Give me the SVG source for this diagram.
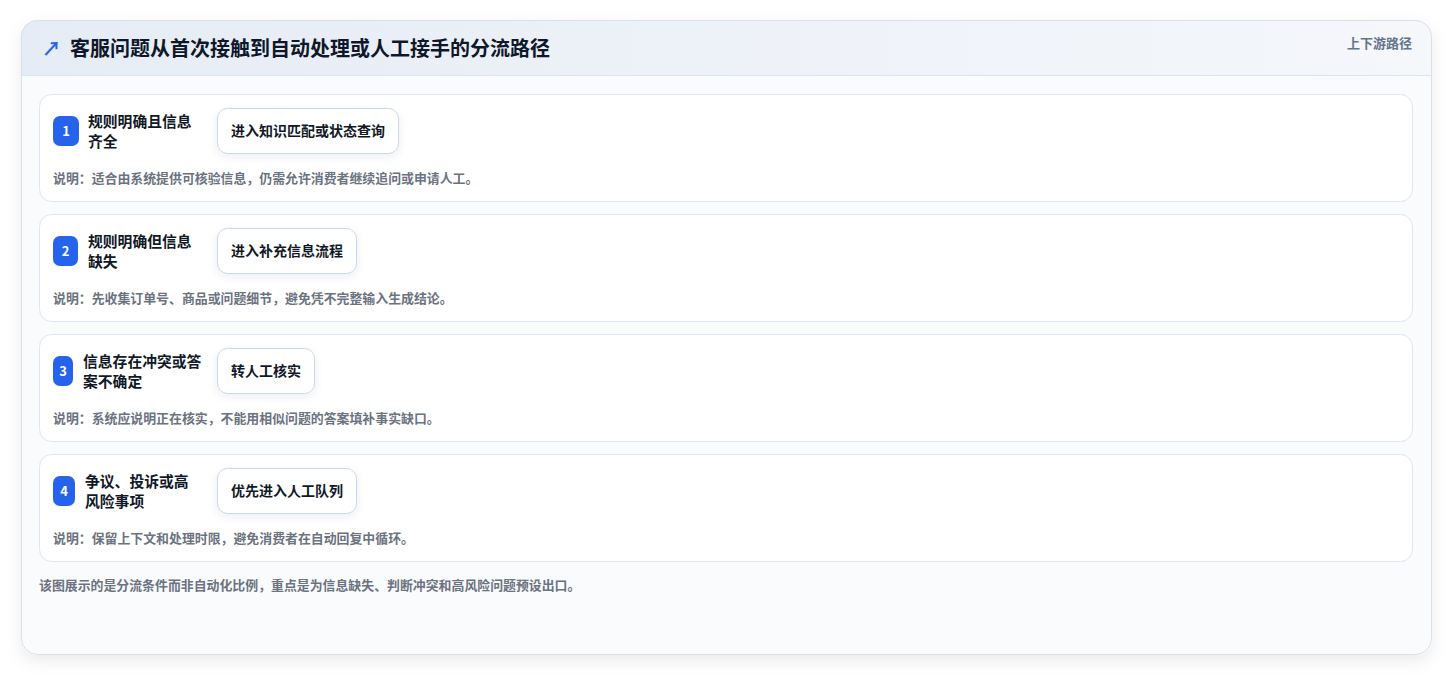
<svg xmlns="http://www.w3.org/2000/svg" width="1453" height="676" viewBox="0 0 1453 676">
<defs>
<linearGradient id="hdr" x1="0" y1="0" x2="1" y2="0">
<stop offset="0" stop-color="#e6ecf5"/>
<stop offset="1" stop-color="#f5f7fb"/>
</linearGradient>
<filter id="cardShadow" x="-5%" y="-5%" width="110%" height="115%">
<feDropShadow dx="0" dy="6" stdDeviation="8" flood-color="#0f172a" flood-opacity="0.08"/>
</filter>
<filter id="boxShadow" x="-10%" y="-20%" width="120%" height="160%">
<feDropShadow dx="0" dy="3" stdDeviation="4" flood-color="#1e3a8a" flood-opacity="0.08"/>
</filter>
<clipPath id="cardClip"><rect x="21" y="20" width="1411" height="635" rx="16"/></clipPath>
</defs>
<style>
text{font-family:"Noto Sans CJK SC","Noto Sans",sans-serif;}
.row{fill:#ffffff;stroke:#dde6f2;stroke-width:1;}
.badge{fill:#2563eb;}
.bnum{fill:#ffffff;font-size:13px;font-weight:700;text-anchor:middle;}
.cond{fill:#111827;font-size:14.8px;font-weight:700;}
.act{fill:#ffffff;stroke:#c9d7ec;stroke-width:1;}
.acttxt{fill:#111827;font-size:14px;font-weight:700;text-anchor:middle;}
.note{fill:#6b7280;font-size:12.9px;font-weight:600;}
</style>
<rect x="0" y="0" width="1453" height="676" fill="#ffffff"/>
<g id="card">
<rect x="21" y="20" width="1411" height="635" rx="16" fill="#f9fbfd" filter="url(#cardShadow)"/>
<g clip-path="url(#cardClip)">
<rect x="21" y="20" width="1411" height="55" fill="url(#hdr)"/>
<line x1="21" y1="75.5" x2="1432" y2="75.5" stroke="#dbe5f1" stroke-width="1"/>
</g>
<rect x="21.5" y="20.5" width="1410" height="634" rx="16" fill="none" stroke="#d9e0ea" stroke-width="1"/>
</g>
<g id="header">
<text x="42" y="56" fill="#2563eb" font-size="19" font-weight="700" font-family="DejaVu Sans, sans-serif">↗</text>
<text x="70" y="56" fill="#0f172a" font-size="20" font-weight="700">客服问题从首次接触到自动处理或人工接手的分流路径</text>
<text x="1412" y="48" fill="#64748b" font-size="13" font-weight="600" text-anchor="end">上下游路径</text>
</g>
<g id="connectors"></g>
<g id="row1">
<rect class="row" x="39.5" y="94.5" width="1373" height="107" rx="12"/>
<rect class="badge" x="53" y="116" width="26" height="30" rx="7"/>
<text class="bnum" x="66" y="136">1</text>
<text class="cond" x="88" y="127">规则明确且信息</text>
<text class="cond" x="88" y="147">齐全</text>
<rect class="act" x="217.5" y="108.5" width="181" height="45" rx="10" filter="url(#boxShadow)"/>
<text class="acttxt" x="308" y="136">进入知识匹配或状态查询</text>
<text class="note" x="53" y="183">说明：适合由系统提供可核验信息，仍需允许消费者继续追问或申请人工。</text>
</g>
<g id="row2">
<rect class="row" x="39.5" y="214.5" width="1373" height="107" rx="12"/>
<rect class="badge" x="53" y="236" width="25" height="30" rx="7"/>
<text class="bnum" x="65.5" y="256">2</text>
<text class="cond" x="88" y="247">规则明确但信息</text>
<text class="cond" x="88" y="267">缺失</text>
<rect class="act" x="217.5" y="228.5" width="139" height="45" rx="10" filter="url(#boxShadow)"/>
<text class="acttxt" x="287" y="256">进入补充信息流程</text>
<text class="note" x="53" y="303">说明：先收集订单号、商品或问题细节，避免凭不完整输入生成结论。</text>
</g>
<g id="row3">
<rect class="row" x="39.5" y="334.5" width="1373" height="107" rx="12"/>
<rect class="badge" x="53" y="356" width="20" height="30" rx="7"/>
<text class="bnum" x="63" y="376">3</text>
<text class="cond" x="83" y="367">信息存在冲突或答</text>
<text class="cond" x="83" y="387">案不确定</text>
<rect class="act" x="217.5" y="348.5" width="97" height="45" rx="10" filter="url(#boxShadow)"/>
<text class="acttxt" x="266" y="376">转人工核实</text>
<text class="note" x="53" y="423">说明：系统应说明正在核实，不能用相似问题的答案填补事实缺口。</text>
</g>
<g id="row4">
<rect class="row" x="39.5" y="454.5" width="1373" height="107" rx="12"/>
<rect class="badge" x="53" y="476" width="22" height="30" rx="7"/>
<text class="bnum" x="64" y="496">4</text>
<text class="cond" x="85" y="487">争议、投诉或高</text>
<text class="cond" x="85" y="507">风险事项</text>
<rect class="act" x="217.5" y="468.5" width="139" height="45" rx="10" filter="url(#boxShadow)"/>
<text class="acttxt" x="287" y="496">优先进入人工队列</text>
<text class="note" x="53" y="543">说明：保留上下文和处理时限，避免消费者在自动回复中循环。</text>
</g>
<g id="footer">
<text class="note" x="39" y="590">该图展示的是分流条件而非自动化比例，重点是为信息缺失、判断冲突和高风险问题预设出口。</text>
</g>
</svg>
